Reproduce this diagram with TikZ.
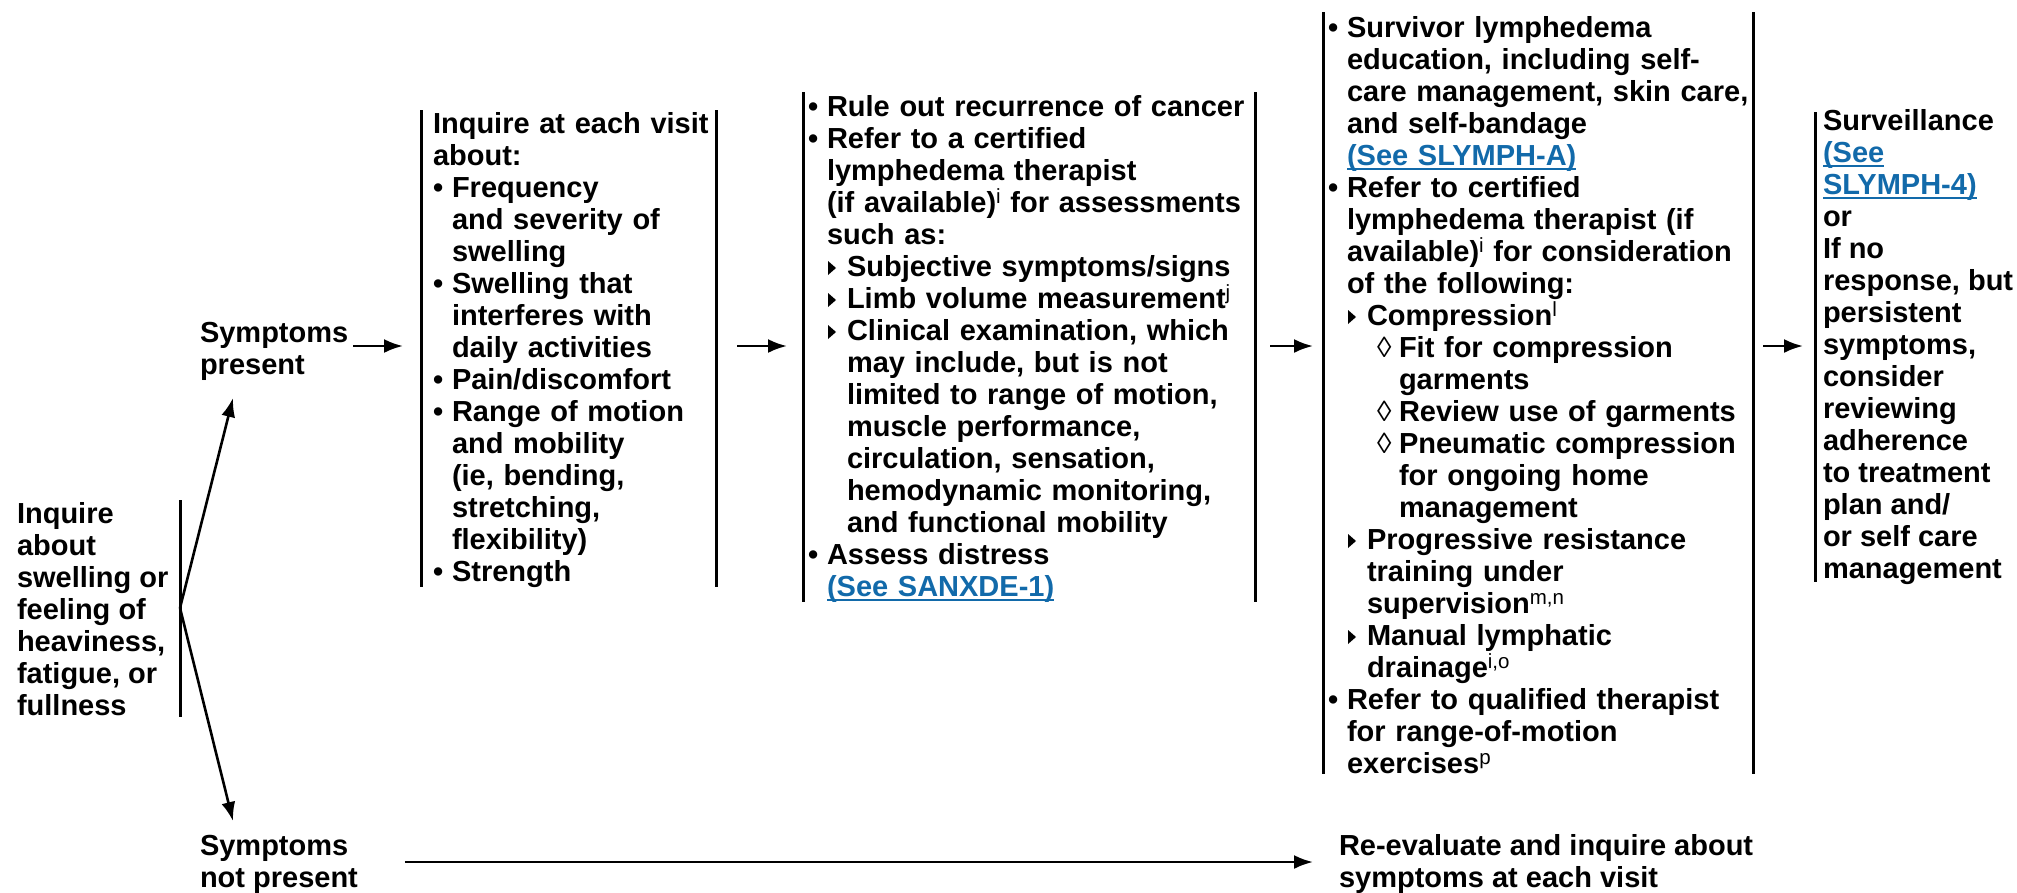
\documentclass[tikz,border=0pt]{standalone}
\usepackage{fontspec}
\setmainfont{Liberation Sans}
\usetikzlibrary{arrows.meta,calc}

\definecolor{linkblue}{RGB}{18,106,170}

% underlined cross-reference
\newlength\lnkw
\newcommand\lnk[1]{\settowidth{\lnkw}{#1}\textcolor{linkblue}{#1\kern-\lnkw\rule[-5pt]{\lnkw}{1.8pt}}}
% footnote marker
\newcommand\fn[1]{\raisebox{9pt}{\fontsize{20.5}{20.5}\selectfont\mdseries #1}}
% small filled triangle for second-level items
\newcommand\tri{\tikz[x=1pt,y=1pt,baseline=0pt]\fill (0,1) -- (0,15) -- (8,8) -- cycle;}
% list markers and hanging indents
\newcommand\Ba{\makebox[19pt][l]{•}}
\newcommand\Ia{\hspace*{19pt}}
\newcommand\Bb{\hspace*{20pt}\makebox[19pt][l]{\tri}}
\newcommand\Ib{\hspace*{39pt}}
\newcommand\Bc{\hspace*{49pt}\makebox[22pt][l]{\mdseries ◊}}
\newcommand\Ic{\hspace*{71pt}}
% fixes the height of a first line
\newcommand\topstrut{\rule{0pt}{22pt}}

\begin{document}
\begin{tikzpicture}[x=1pt,y=-1pt,
  txt/.style={anchor=north west,inner sep=0pt,outer sep=0pt,align=left,
    font=\fontsize{29}{32}\selectfont\bfseries},
  bar/.style={line width=3pt},
  arr/.style={line width=2.6pt,-{Latex[length=19pt,width=14pt]}}]
\useasboundingbox (0,0) rectangle (2017,892);

% ---- first question -------------------------------------------------
\node[txt] (c1) at (17,501) {\topstrut Inquire\\about\\swelling or\\feeling of\\heaviness,\\fatigue, or\\fullness};
\coordinate (fork) at (180,608);
\draw[bar] ($(c1.north -| fork)+(0,-1)$) -- ($(c1.south -| fork)+(0,2)$);

\node[txt] (sp) at (200,320) {\topstrut Symptoms\\present};
\node[txt] (snp) at (200,833) {\topstrut Symptoms\\not present};

% ---- inquiry ---------------------------------------------------------
\node[txt,text width=283pt] (c2) at (433,111) {\topstrut Inquire at each visit\\
about:\\
\Ba Frequency\\
\Ia and severity of\\
\Ia swelling\\
\Ba Swelling that\\
\Ia interferes with\\
\Ia daily activities\\
\Ba Pain/discomfort\\
\Ba Range of motion\\
\Ia and mobility\\
\Ia (ie, bending,\\
\Ia stretching,\\
\Ia flexibility)\\
\Ba Strength};

% ---- assessment ------------------------------------------------------
\node[txt,text width=447pt] (c3) at (808,94) {\topstrut\Ba Rule out recurrence of cancer\\
\Ba Refer to a certified\\
\Ia lymphedema therapist\\
\Ia (if available)\fn{i} for assessments\\
\Ia such as:\\
\Bb Subjective symptoms/signs\\
\Bb Limb volume measurement\fn{j}\\
\Bb Clinical examination, which\\
\Ib may include, but is not\\
\Ib limited to range of motion,\\
\Ib muscle performance,\\
\Ib circulation, sensation,\\
\Ib hemodynamic monitoring,\\
\Ib and functional mobility\\
\Ba Assess distress\\
\Ia \lnk{(See SANXDE-1)}};

% ---- management ------------------------------------------------------
\node[txt,text width=425pt] (c4) at (1328,15) {\topstrut\Ba Survivor lymphedema\\
\Ia education, including self-\\
\Ia care management, skin care,\\
\Ia and self-bandage\\
\Ia \lnk{(See SLYMPH-A)}\\
\Ba Refer to certified\\
\Ia lymphedema therapist (if\\
\Ia available)\fn{i} for consideration\\
\Ia of the following:\\
\Bb Compression\fn{l}\\
\Bc Fit for compression\\
\Ic garments\\
\Bc Review use of garments\\
\Bc Pneumatic compression\\
\Ic for ongoing home\\
\Ic management\\
\Bb Progressive resistance\\
\Ib training under\\
\Ib supervision\fn{m,n}\\
\Bb Manual lymphatic\\
\Ib drainage\fn{i,o}\\
\Ba Refer to qualified therapist\\
\Ia for range-of-motion\\
\Ia exercises\fn{p}};

% ---- follow-up -------------------------------------------------------
\node[txt] (c5) at (1823,108) {\topstrut Surveillance\\
\lnk{(See}\\
\lnk{SLYMPH-4)}\\
or\\
If no\\
response, but\\
persistent\\
symptoms,\\
consider\\
reviewing\\
adherence\\
to treatment\\
plan and/\\
or self care\\
management};

\node[txt] (rev) at (1339,833) {\topstrut Re-evaluate and inquire about\\symptoms at each visit};

% ---- column rules ----------------------------------------------------
\draw[bar] ([shift={(-12,-1)}]c2.north west) -- ([shift={(-12,0)}]c2.south west);
\draw[bar] ([shift={(0,-1)}]c2.north east) -- (c2.south east);
\draw[bar] ([shift={(-5,-2)}]c3.north west) -- ([shift={(-5,0)}]c3.south west);
\draw[bar] ([shift={(0,-2)}]c3.north east) -- (c3.south east);
\draw[bar] ([shift={(-5,-3)}]c4.north west) -- ([shift={(-5,1)}]c4.south west);
\draw[bar] ([shift={(0,-3)}]c4.north east) -- ([shift={(0,1)}]c4.south east);
\draw[bar] ([shift={(-8,4)}]c5.north west) -- ([shift={(-8,-2)}]c5.south west);

% ---- connectors ------------------------------------------------------
\coordinate (row) at (0,346);
\coordinate (lrow) at (0,862);
\draw[arr] (fork) -- ($(sp.south west)+(33,18)$);
\draw[arr] (fork) -- ($(snp.north west)+(33,-12)$);
\draw[arr] ($(sp.north east |- row)+(5,0)$) -- ($(c2.west |- row)+(-30,0)$);
\draw[arr] ($(c2.east |- row)+(21,0)$) -- ($(c3.west |- row)+(-21,0)$);
\draw[arr] ($(c3.east |- row)+(15,0)$) -- ($(c4.west |- row)+(-15,0)$);
\draw[arr] ($(c4.east |- row)+(10,0)$) -- ($(c5.west |- row)+(-20,0)$);
\draw[arr] ($(snp.east |- lrow)+(47,0)$) -- ($(rev.west |- lrow)+(-26,0)$);
\end{tikzpicture}
\end{document}
